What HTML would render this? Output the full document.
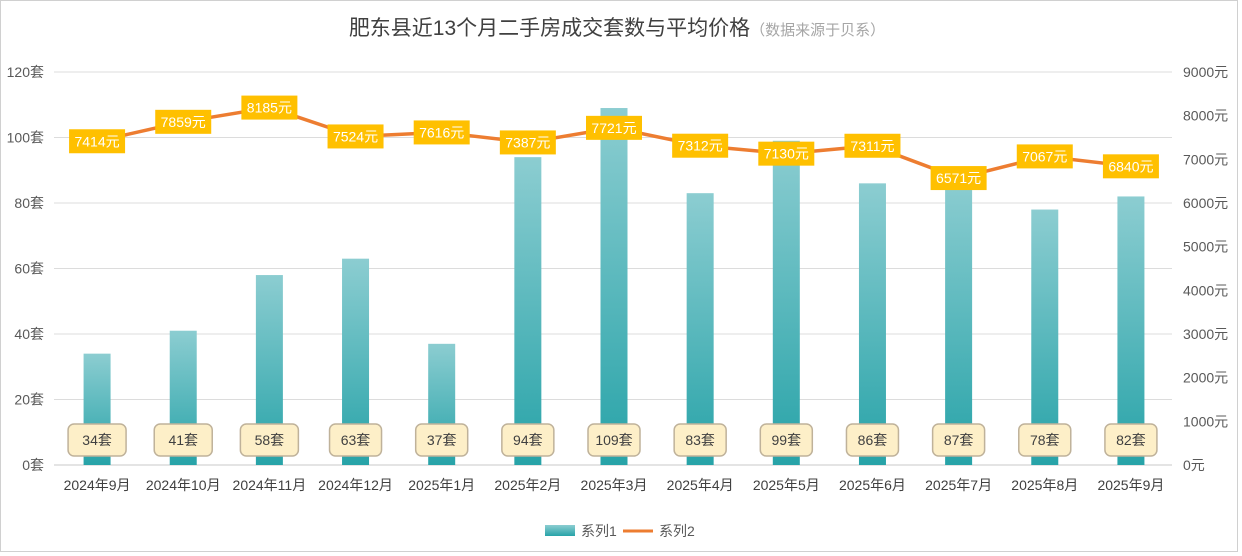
<!DOCTYPE html>
<html><head><meta charset="utf-8">
<style>
html,body{margin:0;padding:0;background:#fff;}
body{width:1242px;height:556px;overflow:hidden;font-family:"Liberation Sans","Noto Sans CJK SC",sans-serif;}
#frame{position:absolute;left:0;top:0;width:1236px;height:550px;border:1px solid #d0d0d0;}
</style></head>
<body>
<div id="frame"></div>
<svg id="chart" width="1242" height="556" style="position:absolute;left:0;top:0">
<defs>
<linearGradient id="barg" x1="0" y1="0" x2="0" y2="1">
<stop offset="0" stop-color="#8ccdd1"/><stop offset="1" stop-color="#27a3a8"/>
</linearGradient>
</defs>
<text x="617" y="35" text-anchor="middle" font-size="21" fill="#404040">肥东县近13个月二手房成交套数与平均价格<tspan font-size="15" fill="#a6a6a6">（数据来源于贝系）</tspan></text>
<g id="grid"></g><g id="bars"></g><g id="line"></g><g id="labels"></g><g id="axes"></g>
<g>
<rect x="545" y="525" width="30" height="11" fill="url(#barg)"/>
<text x="581" y="536" font-size="14" fill="#595959">系列1</text>
<line x1="623" y1="531" x2="653" y2="531" stroke="#ed7d31" stroke-width="3"/>
<text x="659" y="536" font-size="14" fill="#595959">系列2</text>
</g>
</svg>
<script>
const categories=["2024年9月","2024年10月","2024年11月","2024年12月","2025年1月","2025年2月","2025年3月","2025年4月","2025年5月","2025年6月","2025年7月","2025年8月","2025年9月"];
const counts=[34,41,58,63,37,94,109,83,99,86,87,78,82];
const prices=[7414,7859,8185,7524,7616,7387,7721,7312,7130,7311,6571,7067,6840];
const leftTicks=[0,20,40,60,80,100,120];
const rightTicks=[0,1000,2000,3000,4000,5000,6000,7000,8000,9000];
const NS="http://www.w3.org/2000/svg";
const X0=54,X1=1174,Y0=465,Y1=72;
const step=(X1-X0)/categories.length;
const xc=i=>X0+step*(i+0.5);
const yL=v=>Y0-(v/120)*(Y0-Y1);
const yR=v=>Y0-(v/9000)*(Y0-Y1);
function mk(tag,attrs,parent,txt){const e=document.createElementNS(NS,tag);for(const k in attrs)e.setAttribute(k,attrs[k]);if(txt!==undefined)e.textContent=txt;document.getElementById(parent).appendChild(e);return e;}
leftTicks.forEach(t=>{
  const g=mk("line",{x1:X0,x2:1172,y1:yL(t),y2:yL(t),stroke:t===0?"#c8c8c8":"#dcdcdc","stroke-width":1},"grid");
  
  
  const l=mk("text",{x:44,y:yL(t)+5,"text-anchor":"end","font-size":14,fill:"#595959"},"axes",t+"套");
  
  
});
rightTicks.forEach(t=>{
  const l=mk("text",{x:1183,y:yR(t)+5,"font-size":14,fill:"#595959"},"axes",t+"元");
  
  
});
const bw=27;
counts.forEach((v,i)=>{
  const b=mk("rect",{x:xc(i)-bw/2,y:yL(v),width:bw,height:Y0-yL(v),fill:"url(#barg)"},"bars");
  
  
  const c=mk("text",{x:xc(i),y:490,"text-anchor":"middle","font-size":14,fill:"#404040"},"axes",categories[i]);
  
  
  const w=i<3?58:52;
  const r=mk("rect",{x:xc(i)-w/2,y:424,width:w,height:32,rx:6,fill:"#fdefc8",stroke:"#bfb29a","stroke-width":1.5},"labels");
  
  
  const t=mk("text",{x:xc(i),y:445,"text-anchor":"middle","font-size":14,fill:"#404040"},"labels",v+"套");
  
  
});
const pts=prices.map((p,i)=>xc(i)+","+yR(p)).join(" ");
const pl=mk("polyline",{points:pts,fill:"none",stroke:"#ed7d31","stroke-width":3.5,"stroke-linejoin":"round"},"line");


prices.forEach((p,i)=>{
  const r=mk("rect",{x:xc(i)-28,y:yR(p)-12,width:56,height:24,fill:"#ffc000"},"labels");
  
  
  const t=mk("text",{x:xc(i),y:yR(p)+5,"text-anchor":"middle","font-size":14,fill:"#fff"},"labels",p+"元");
  
  
});
</script>
</body></html>
